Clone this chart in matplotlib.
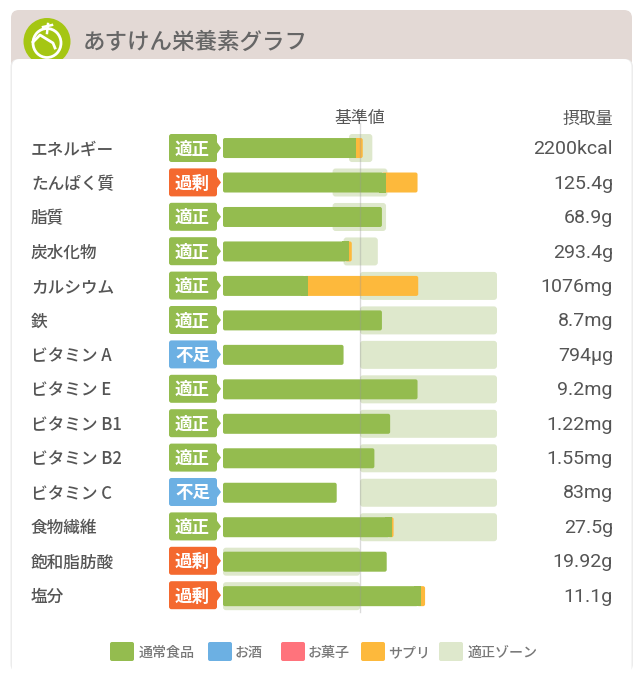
import matplotlib
matplotlib.use("Agg")
import matplotlib.pyplot as plt
from matplotlib.patches import FancyBboxPatch, Circle, Polygon, Ellipse

plt.rcParams['font.family'] = ['Noto Sans CJK JP', 'DejaVu Sans']

names = ['エネルギー', 'たんぱく質', '脂質', '炭水化物', 'カルシウム', '鉄', 'ビタミン A', 'ビタミン E',
         'ビタミン B1', 'ビタミン B2', 'ビタミン C', '食物繊維', '飽和脂肪酸', '塩分']
status = ['適正', '過剰', '適正', '適正', '適正', '適正', '不足', '適正', '適正', '適正', '不足', '適正', '過剰', '過剰']
intake = ['2200kcal', '125.4g', '68.9g', '293.4g', '1076mg', '8.7mg', '794µg', '9.2mg',
          '1.22mg', '1.55mg', '83mg', '27.5g', '19.92g', '11.1g']
# percent of the reference value
food = [97, 119, 116, 92, 62, 116, 88, 142, 122, 110.5, 83, 123.5, 119.5, 144.5]
supp = [5, 23, 0, 2, 80.5, 0, 0, 0, 0, 0, 0, 1, 0, 3]
zone_lo = [92, 80, 80, 88, 100, 100, 100, 100, 100, 100, 100, 100, 0, 0]
zone_hi = [109, 120, 119, 113, 200, 200, 200, 200, 200, 200, 200, 200, 100, 100]

legend_names = ['通常食品', 'お酒', 'お菓子', 'サプリ', '適正ゾーン']
legend_colors = ['#94bc4f', '#6cb0e3', '#ff737c', '#fdb93c', '#dee8cc']
legend_box_x = [110, 208, 281, 361, 439]
legend_text_x = [139, 235, 308, 388, 468]
status_colors = {'適正': '#94bc4f', '過剰': '#f4692f', '不足': '#6cb0e3'}

GREEN, ORANGE, ZONE = '#94bc4f', '#fdb93c', '#dee8cc'
TEXT = '#555555'
LATIN = ['Roboto', 'Noto Sans CJK JP', 'DejaVu Sans']

fig = plt.figure(figsize=(6.44, 6.80), dpi=100, facecolor='white')
bg = fig.add_axes([0, 0, 1, 1])
bg.set_xlim(0, 644)
bg.set_ylim(680, 0)
bg.axis('off')


def box(ax, x0, y0, w, h, r, color, aspect=1, z=1):
    ax.add_patch(FancyBboxPatch((x0, y0), w, h, boxstyle=f'round,pad=0,rounding_size={r}',
                                mutation_aspect=aspect, fc=color, ec='none', zorder=z))


# header, logo and card
box(bg, 11, 10, 621, 80, 8, '#e3d9d5', z=1)
bg.add_patch(Circle((47, 41.5), 23.5, fc='#a5c613', ec='none', zorder=2))
bg.add_patch(Ellipse((47, 43), 28, 29, fc='none', ec='white', lw=2, zorder=3))
bg.plot([47, 48], [33, 24], color='white', lw=1.8, zorder=3)
bg.plot([43, 52], [27, 25], color='white', lw=1.8, zorder=3)
bg.plot([33, 40, 53, 55], [42, 35, 43, 48], color='white', lw=2, zorder=3)
box(bg, 10.5, 59, 622.5, 613, 8, '#ececec', z=4)
box(bg, 12, 59, 619.5, 640, 8, 'white', z=5)
bg.text(83, 42.5, 'あすけん栄養素グラフ', fontsize=16.2, color='#666666', weight='medium', va='center', zorder=3)

bg.text(360, 118.5, '基準値', fontsize=12.2, color=TEXT, ha='center', va='center', zorder=6)
bg.text(613.5, 118.5, '摂取量', fontsize=12.2, color=TEXT, ha='right', va='center', zorder=6)

# axes spans 0-200 % over 223-497 px, one unit per row
ax = fig.add_axes([223 / 644, 1 - 613.4 / 680, 274 / 644, 482.6 / 680])
ax.patch.set_alpha(0)
ax.set_xlim(0, 200)
ax.set_ylim(13.5, -0.5)
ax.axis('off')
px_x = 200 / 274
px_y = 14 / 482.6
asp = px_y / px_x

for i in range(len(names)):
    y_px = 148 + i * 34.4
    bg.text(31, y_px + 1.8, names[i], fontsize=12, color=TEXT, weight='medium', va='center', zorder=6)
    bg.text(613, y_px + 1.5, intake[i], fontsize=14, family=LATIN, color=TEXT, ha='right', va='center', zorder=6)

    c = status_colors[status[i]]
    box(bg, 169, y_px - 14, 48, 28, 2.5, c, z=6)
    bg.add_patch(Polygon([(216, y_px - 7), (221, y_px), (216, y_px + 7)], fc=c, ec='none', zorder=6))
    bg.text(192.5, y_px + 1.5, status[i], fontsize=12.6, color='white', weight='bold', ha='center', va='center', zorder=7)

    box(ax, zone_lo[i], i - 14 * px_y, zone_hi[i] - zone_lo[i], 28 * px_y, 3 * px_x, ZONE, asp, z=1)
    if supp[i] > 0:
        box(ax, food[i] - 3, i - 10 * px_y, supp[i] + 3, 20 * px_y, 2 * px_x, ORANGE, asp, z=2)
        ax.barh(i, 5, left=food[i] - 5, height=20 * px_y, color=GREEN, zorder=3)
        box(ax, 0, i - 10 * px_y, food[i] - 2, 20 * px_y, 2 * px_x, GREEN, asp, z=3)
    else:
        box(ax, 0, i - 10 * px_y, food[i], 20 * px_y, 2 * px_x, GREEN, asp, z=3)

ax.plot([100, 100], [-0.72, 13.45], color='#999999', alpha=0.35, lw=1, zorder=4, clip_on=False)

# legend
for x, tx, name, color in zip(legend_box_x, legend_text_x, legend_names, legend_colors):
    box(bg, x, 642, 24, 19, 2, color, z=6)
    bg.text(tx, 653, name, fontsize=10.1, color='#777777', weight='medium', va='center', zorder=6)

fig.savefig('out.png', dpi=100)
